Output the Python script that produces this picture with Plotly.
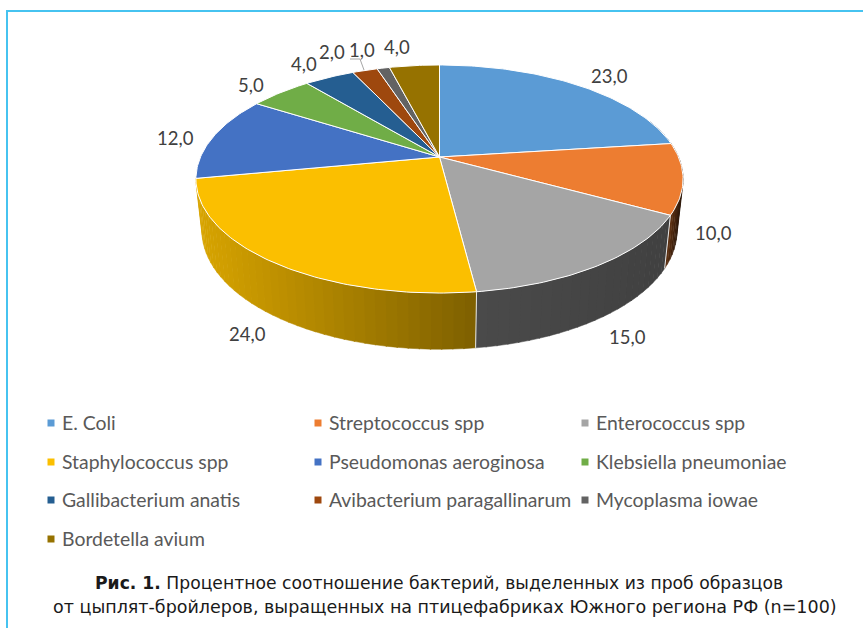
import numpy as np
import plotly.graph_objects as go

# ---- data ----
categories = ["E. Coli", "Streptococcus spp", "Enterococcus spp", "Staphylococcus spp",
              "Pseudomonas aeroginosa", "Klebsiella pneumoniae", "Gallibacterium anatis",
              "Avibacterium paragallinarum", "Mycoplasma iowae", "Bordetella avium"]
values = [23.0, 10.0, 15.0, 24.0, 12.0, 5.0, 4.0, 2.0, 1.0, 4.0]

# ---- styles ----
colors = ["#5b9bd5", "#ed7d31", "#a5a5a5", "#fbbf00", "#4472c4",
          "#70ad47", "#255e91", "#9e480e", "#636363", "#967200"]
wall_shade = [(.6, .6), (.42, .40), (.45, .39), (.86, .50)]

# ---- layout (pixels) ----
CX, CY = 439.5, 157.0
A, B, K = 239.0, 109.8, 0.193
label_x = [609, 713, 627, 247, 175, 251, 304, 332, 362, 397]
label_y = [76, 233, 337, 334, 138, 85, 64, 52, 50, 47]
legend_col_x = [51, 318, 585]
legend_row_y = [423, 462, 500, 539]
caption_lines = ["<b>Рис. 1.</b> Процентное соотношение бактерий, выделенных из проб образцов",
                 "от цыплят-бройлеров, выращенных на птицефабриках Южного региона РФ (n=100)"]
caption_x = [439, 444.5]
caption_y = [583, 607]
caption_size = [17.2, 17.5]


def project(theta):
    """Perspective projection of a point on the pie's rim (theta clockwise from top)."""
    X, Y = np.sin(theta), np.cos(theta)
    d = 1 + K * Y
    return A * X / d, B * Y / d


def top_rim(theta):
    px, py = project(theta)
    return CX + px, CY - py


def bottom_rim(theta):
    px, py = project(theta)
    return CX + 0.975 * px, CY - 1.038 * py + 51


def shade(hex_color, f):
    r, g, b = (int(hex_color[i:i + 2], 16) for i in (1, 3, 5))
    return f"rgb({r * f:.0f},{g * f:.0f},{b * f:.0f})"


fig = go.Figure()

total = sum(values)
edges = np.concatenate([[0], np.cumsum(values)]) / total * 2 * np.pi

# side wall, only the slices that show at the front
for i in range(len(wall_shade)):
    lo, hi = max(edges[i], np.radians(70)), edges[i + 1]
    if hi <= lo:
        continue
    n = max(2, int((hi - lo) / np.radians(2.2)))
    ts = np.linspace(lo, hi, n + 1)
    x0, x1 = top_rim(lo)[0], top_rim(hi)[0]
    for j in range(n):
        a, b = ts[j], min(ts[j + 1] + 0.004, hi)
        xt, yt = top_rim(np.array([a, b]))
        xb, yb = bottom_rim(np.array([b, a]))
        xm = (xt.mean() - min(x0, x1)) / max(abs(x1 - x0), 1)
        f = wall_shade[i][0] + (wall_shade[i][1] - wall_shade[i][0]) * xm
        c = shade(colors[i], f)
        fig.add_trace(go.Scatter(x=list(xt) + list(xb), y=list(yt) + list(yb), mode="lines",
                                 fill="toself", fillcolor=c, line=dict(color=c, width=0.5),
                                 hoverinfo="skip", showlegend=False))

# white seams on the wall
for e in edges[1:]:
    if np.radians(90) < e < np.radians(250):
        xt, yt = top_rim(e)
        xb, yb = bottom_rim(e)
        fig.add_trace(go.Scatter(x=[xt, xb], y=[yt, yb], mode="lines",
                                 line=dict(color="#e8e8e8", width=1),
                                 hoverinfo="skip", showlegend=False))

# top face
for i, (name, v) in enumerate(zip(categories, values)):
    ts = np.linspace(edges[i], edges[i + 1], max(3, int(v * 4)))
    xr, yr = top_rim(ts)
    fig.add_trace(go.Scatter(x=[CX] + list(xr) + [CX], y=[CY] + list(yr) + [CY], mode="lines",
                             fill="toself", fillcolor=colors[i],
                             line=dict(color="#ffffff", width=1), name=name,
                             text=f"{name}: {v:.1f}".replace(".", ","), hoverinfo="text",
                             showlegend=False))

# leader line for the "1,0" label
fig.add_trace(go.Scatter(x=[350, 360, 364], y=[59, 59, 70], mode="lines",
                         line=dict(color="#a6a6a6", width=1), hoverinfo="skip", showlegend=False))

annotations = []
for v, lx, ly in zip(values, label_x, label_y):
    annotations.append(dict(x=lx, y=ly, xref="x", yref="y", showarrow=False,
                            text=f"{v:.1f}".replace(".", ","),
                            font=dict(family="Lato", size=18.5, color="#404040")))

# legend
for i, name in enumerate(categories):
    lx = legend_col_x[i % 3]
    ly = legend_row_y[i // 3]
    fig.add_trace(go.Scatter(x=[lx], y=[ly], mode="markers",
                             marker=dict(symbol="square", size=7, color=colors[i]),
                             hoverinfo="skip", showlegend=False))
    annotations.append(dict(x=lx + 9, y=ly - 1, xref="x", yref="y", showarrow=False, xanchor="left",
                            text=name, font=dict(family="Lato", size=19.4, color="#595959")))

# caption
for line, lx, ly, fs in zip(caption_lines, caption_x, caption_y, caption_size):
    annotations.append(dict(x=lx, y=ly, xref="x", yref="y", showarrow=False,
                            text=line, font=dict(family="DejaVu Sans", size=fs, color="#1a1a1a")))

frame_color = "#46c3f0"
shapes = [dict(type="line", xref="x", yref="y", x0=6, x1=863, y0=11, y1=11,
               line=dict(color=frame_color, width=2)),
          dict(type="line", xref="x", yref="y", x0=7, x1=7, y0=10, y1=628,
               line=dict(color=frame_color, width=2))]

fig.update_layout(width=863, height=628, margin=dict(l=0, r=0, t=0, b=0),
                  paper_bgcolor="white", plot_bgcolor="white", showlegend=False,
                  xaxis=dict(range=[0, 863], visible=False, fixedrange=True),
                  yaxis=dict(range=[628, 0], visible=False, fixedrange=True),
                  annotations=annotations, shapes=shapes)
fig.write_html("out.html", config={"displayModeBar": False},
               post_script="document.body.style.margin='0';")
